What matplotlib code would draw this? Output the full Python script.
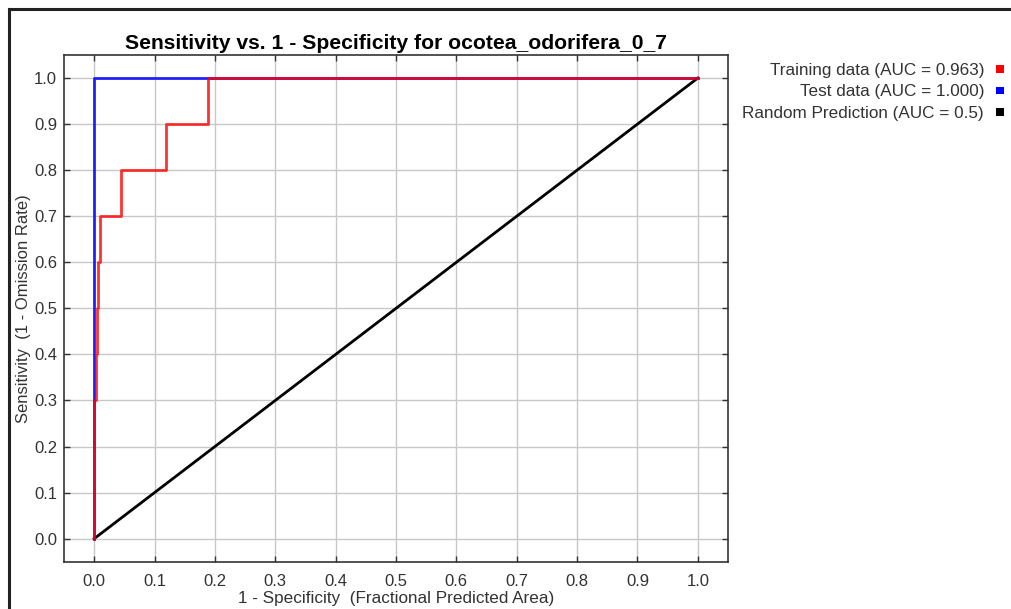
import numpy as np
import matplotlib
matplotlib.use("Agg")
import matplotlib.pyplot as plt
from matplotlib.lines import Line2D
from matplotlib.patches import Rectangle

plt.rcParams['font.family'] = ['Liberation Sans', 'DejaVu Sans']

# ROC data
train_x = [0.0, 0.0, 0.0023, 0.0023, 0.0045, 0.0045, 0.006, 0.006, 0.009, 0.009,
           0.044, 0.044, 0.119, 0.119, 0.189, 0.189, 1.0]
train_y = [0.0, 0.3, 0.3, 0.4, 0.4, 0.5, 0.5, 0.6, 0.6, 0.7,
           0.7, 0.8, 0.8, 0.9, 0.9, 1.0, 1.0]
test_x = [0.0, 0.0, 1.0]
test_y = [0.0, 1.0, 1.0]
rand_x = [0.0, 1.0]
rand_y = [0.0, 1.0]

labels = ['Training data (AUC = 0.963)', 'Test data (AUC = 1.000)',
          'Random Prediction (AUC = 0.5)']
colors = ['#ff0000', '#0000ff', '#000000']
ticks = np.round(np.arange(0, 1.01, 0.1), 1)

W, H = 1011, 609
fig = plt.figure(figsize=(W / 100, H / 100), dpi=100)
ax = fig.add_axes([64 / W, 1 - 561.7 / H, (728 - 64) / W, (561.7 - 55) / H])

ax.grid(True, color='#c8c8c8', linewidth=1.0)
ax.set_axisbelow(True)
ax.plot(rand_x, rand_y, color=colors[2], linewidth=2.0)
ax.plot(test_x, test_y, color=colors[1], linewidth=2.0, alpha=0.85)
ax.plot(train_x, train_y, color=colors[0], linewidth=2.0, alpha=0.8)

ax.set_xlim(-0.05, 1.05)
ax.set_ylim(-0.05, 1.05)
ax.set_xticks(ticks)
ax.set_yticks(ticks)
ax.set_xticklabels(['%.1f' % t for t in ticks])
ax.set_yticklabels(['%.1f' % t for t in ticks])
ax.tick_params(direction='in', length=4, width=1, top=True, right=True,
               labelsize=12, colors='#333333', labelcolor='#333333')
ax.tick_params(axis='x', pad=9)
ax.tick_params(axis='y', pad=5)
for s in ax.spines.values():
    s.set_color('#333333')
    s.set_linewidth(1.2)

ax.set_title('Sensitivity vs. 1 - Specificity for ocotea_odorifera_0_7',
             fontsize=15.2, fontweight='bold', pad=4)
ax.set_xlabel('1 - Specificity  (Fractional Predicted Area)', fontsize=12.3,
              color='#333333', labelpad=1.5)
ax.set_ylabel('Sensitivity  (1 - Omission Rate)', fontsize=12,
              color='#333333', labelpad=2)

# legend on the right, text right-aligned with square swatch after it
for i, (lab, c) in enumerate(zip(labels, colors)):
    yc = 70.5 + i * 21.3
    fig.text(984 / W, 1 - yc / H, lab, ha='right', va='center', fontsize=12.3,
             color='#333333')
    fig.add_artist(Rectangle((996 / W, 1 - (yc + 2.5) / H), 7.5 / W, 7.5 / H,
                             transform=fig.transFigure, color=c, lw=0))

# outer frame (top and left edges visible)
fig.add_artist(Line2D([8.5 / W, 1], [1 - 8.5 / H] * 2, transform=fig.transFigure,
                      color='#222222', linewidth=2.2))
fig.add_artist(Line2D([8.5 / W] * 2, [0, 1 - 8.5 / H], transform=fig.transFigure,
                      color='#222222', linewidth=2.2))

fig.savefig('out.png', dpi=100)
